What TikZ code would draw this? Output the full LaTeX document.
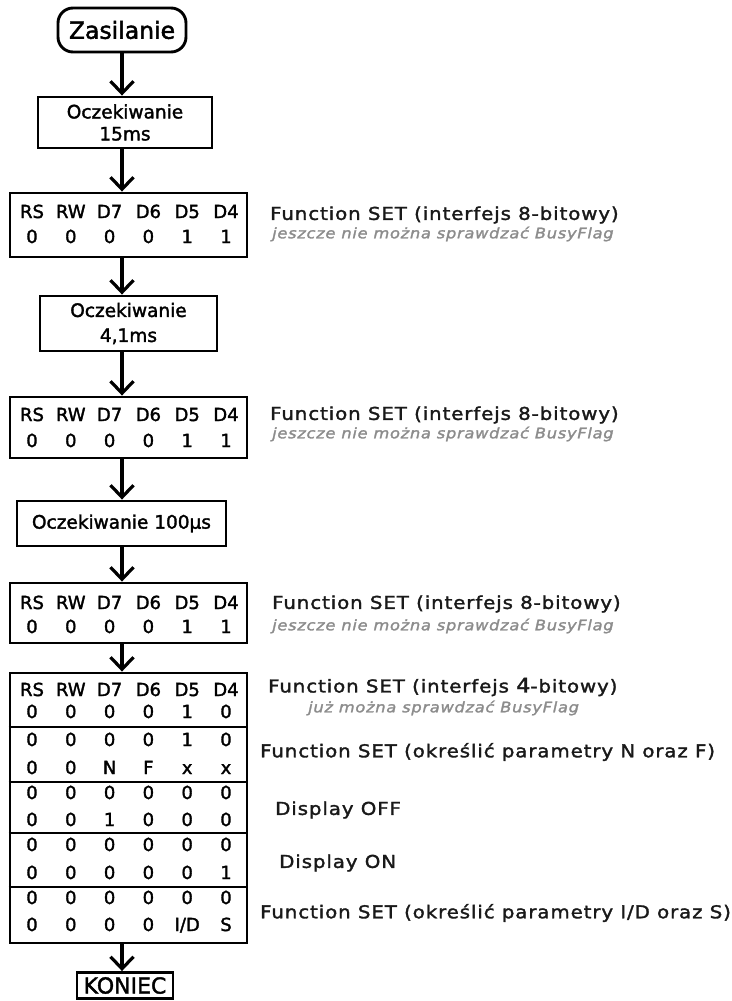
\documentclass[tikz,border=0pt]{standalone}
\usepackage{fontspec}
\setmainfont{DejaVu Sans}[FakeBold=1.8]
\newfontfamily\lblfamily[FakeStretch=1.12,LetterSpace=5,FakeBold=1.8]{DejaVu Sans}
\usepackage{tikz}
\usetikzlibrary{arrows.meta,calc}

\tikzset{
  box/.style={draw,line width=2.9pt,inner sep=0pt,align=center,font=\fontsize{18.5}{22}\selectfont},
  startbox/.style={box,rounded corners=15pt,minimum width=128pt,minimum height=44pt,font=\fontsize{23.5}{26}\selectfont},
  tabbox/.style={draw,line width=2.9pt,inner sep=0pt,minimum width=237pt},
  tabline/.style={line width=2.9pt},
  cell/.style={anchor=base,inner sep=0pt,font=\fontsize{18}{20}\selectfont},
  flow/.style={line width=3.2pt,-{Straight Barb[length=12pt,width=23pt]}},
  lbl/.style={anchor=west,inner sep=0pt,text=black!90,font=\lblfamily\fontsize{17.7}{20}\selectfont},
  sublbl/.style={anchor=west,inner sep=0pt,text=black!45,font=\lblfamily\itshape\fontsize{14.5}{16}\selectfont}
}

\begin{document}
\begin{tikzpicture}[x=1pt,y=-1pt]
\useasboundingbox (0,0) rectangle (731,1001);
% Start and end
\node[startbox] (zas) at (122,30) {Zasilanie};
\node[box,minimum width=96pt,minimum height=26pt,font=\fontsize{22}{22}\selectfont] (kon) at (125,985.5) {KONIEC};
% Waiting boxes
\node[box,minimum width=174pt,minimum height=51pt] (w1) at (125,122.5) {Oczekiwanie\\15ms};
\node[box,minimum width=177pt,minimum height=55pt,font=\fontsize{18.5}{25}\selectfont] (w2) at (128.5,323.5) {Oczekiwanie\\4,1ms};
\node[box,minimum width=209pt,minimum height=45pt] (w3) at (121.5,523.5) {Oczekiwanie 100µs};
% Tables
\node[tabbox,minimum height=64pt] (t1) at (128.5,225) {};
\node[tabbox,minimum height=61pt] (t2) at (128.5,427.5) {};
\node[tabbox,minimum height=60pt] (t3) at (128.5,613) {};
\node[tabbox,minimum height=270pt] (t4) at (128.5,808) {};
\foreach \y in {727,782,833,887}
  \draw[tabline] (t4.west |- 0,\y) -- (t4.east |- 0,\y);
% Table cells
\foreach \r/\y/\vals in {
    a/218/{RS,RW,D7,D6,D5,D4}, b/243/{0,0,0,0,1,1},
    c/421/{RS,RW,D7,D6,D5,D4}, d/447/{0,0,0,0,1,1},
    e/609/{RS,RW,D7,D6,D5,D4}, f/633/{0,0,0,0,1,1},
    g/696/{RS,RW,D7,D6,D5,D4}, h/718/{0,0,0,0,1,0},
    i/746/{0,0,0,0,1,0}, j/774/{0,0,N,F,x,x},
    k/799/{0,0,0,0,0,0}, l/826/{0,0,1,0,0,0},
    m/851/{0,0,0,0,0,0}, n/879/{0,0,0,0,0,1},
    o/904/{0,0,0,0,0,0}, p/931/{0,0,0,0,{I/D},S}}
  \foreach \v [count=\i from 0] in \vals
    \node[cell] (\r\i) at ({32+38.8*\i},\y) {\v};
% Arrows
\draw[flow] (zas.south) -- (zas |- w1.north);
\draw[flow] (zas |- w1.south) -- (zas |- t1.north);
\draw[flow] (zas |- t1.south) -- (zas |- w2.north);
\draw[flow] (zas |- w2.south) -- (zas |- t2.north);
\draw[flow] (zas |- t2.south) -- (zas |- w3.north);
\draw[flow] (zas |- w3.south) -- (zas |- t3.north);
\draw[flow] (zas |- t3.south) -- (zas |- t4.north);
\draw[flow] (zas |- t4.south) -- (zas |- kon.north);
% Labels
\node[lbl] (l1) at (270,215) {Function SET (interfejs 8-bitowy)};
\node[sublbl] (s1) at (272,234) {jeszcze nie można sprawdzać BusyFlag};
\node[lbl] (l2) at (270,415) {Function SET (interfejs 8-bitowy)};
\node[sublbl] (s2) at (272,434) {jeszcze nie można sprawdzać BusyFlag};
\node[lbl] (l3) at (272,604) {Function SET (interfejs 8-bitowy)};
\node[sublbl] (s3) at (272,626) {jeszcze nie można sprawdzać BusyFlag};
\node[lbl] (l4) at (268,687) {Function SET (interfejs {\fontsize{20}{20}\selectfont 4}-bitowy)};
\node[sublbl] (s4) at (308,708) {już można sprawdzać BusyFlag};
\node[lbl] (l5) at (260,752) {Function SET (określić parametry N oraz F)};
\node[lbl] (l6) at (275,810) {Display OFF};
\node[lbl] (l7) at (279,863) {Display ON};
\node[lbl] (l8) at (260,913) {Function SET (określić parametry I/D oraz S)};
\end{tikzpicture}
\end{document}
